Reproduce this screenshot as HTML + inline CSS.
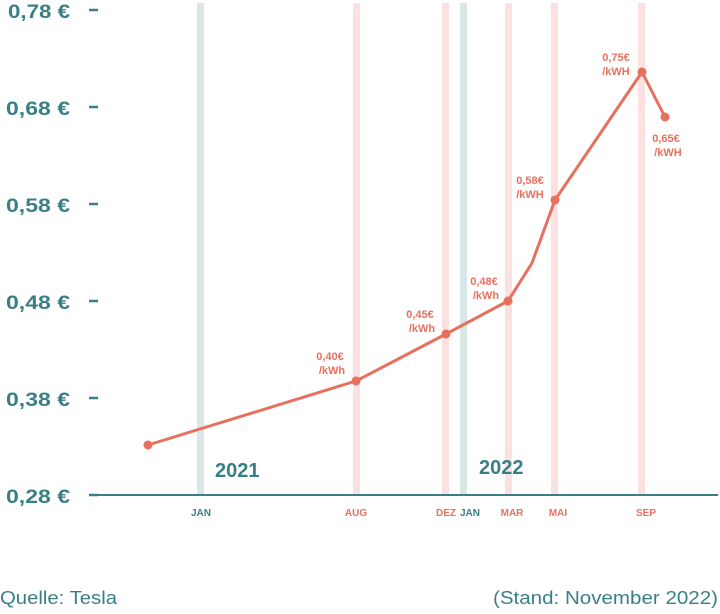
<!DOCTYPE html>
<html><head><meta charset="utf-8"><style>
body{margin:0;background:#fff;}
svg{display:block;font-family:"Liberation Sans",sans-serif;}
</style></head><body>
<svg width="720" height="614" viewBox="0 0 720 614" xmlns="http://www.w3.org/2000/svg">
<g>
<rect x="197" y="3" width="7" height="492" fill="#d9e7e7"/>
<rect x="353" y="3" width="7" height="492" fill="#fbe1df"/>
<rect x="442" y="3" width="7" height="492" fill="#fbe1df"/>
<rect x="460" y="3" width="7" height="492" fill="#d9e7e7"/>
<rect x="505" y="3" width="7" height="492" fill="#fbe1df"/>
<rect x="551" y="3" width="7" height="492" fill="#fbe1df"/>
<rect x="638" y="3" width="7" height="492" fill="#fbe1df"/>
</g>
<line x1="90" y1="495" x2="718" y2="495" stroke="#3a7f84" stroke-width="2"/>
<g fill="#3a7f84" font-weight="bold" font-size="19">
<text x="8" y="18" textLength="62" lengthAdjust="spacingAndGlyphs">0,78 €</text>
<text x="6" y="115" textLength="64" lengthAdjust="spacingAndGlyphs">0,68 €</text>
<text x="6" y="212" textLength="64" lengthAdjust="spacingAndGlyphs">0,58 €</text>
<text x="6" y="309" textLength="64" lengthAdjust="spacingAndGlyphs">0,48 €</text>
<text x="6" y="406" textLength="64" lengthAdjust="spacingAndGlyphs">0,38 €</text>
<text x="6" y="503" textLength="64" lengthAdjust="spacingAndGlyphs">0,28 €</text>
</g>
<g stroke="#3a7f84" stroke-width="2.5">
<line x1="89" y1="10" x2="98" y2="10"/><line x1="89" y1="107" x2="98" y2="107"/>
<line x1="89" y1="204" x2="98" y2="204"/><line x1="89" y1="301" x2="98" y2="301"/>
<line x1="89" y1="398" x2="98" y2="398"/><line x1="89" y1="495" x2="98" y2="495"/>
</g>
<g font-size="10" font-weight="bold" text-anchor="middle">
<text x="201" y="516" fill="#3a7f84">JAN</text>
<text x="356" y="516" fill="#e8705f">AUG</text>
<text x="446" y="516" fill="#e8705f">DEZ</text>
<text x="470" y="516" fill="#3a7f84">JAN</text>
<text x="512" y="516" fill="#e8705f">MAR</text>
<text x="558" y="516" fill="#e8705f">MAI</text>
<text x="646" y="516" fill="#e8705f">SEP</text>
</g>
<g fill="#3a7f84" font-weight="bold" font-size="20">
<text x="215" y="477">2021</text>
<text x="479" y="474">2022</text>
</g>
<polyline points="148,445 356,381 446,334 508,301 532,263 555,200 642,72 665,117" fill="none" stroke="#e8705f" stroke-width="3" stroke-linejoin="round"/>
<g fill="#e8705f">
<circle cx="148" cy="445" r="4.5"/><circle cx="356" cy="381" r="4.5"/><circle cx="446" cy="334" r="4.5"/>
<circle cx="508" cy="301" r="4.5"/><circle cx="555" cy="200" r="4.5"/><circle cx="642" cy="72" r="4.5"/><circle cx="665" cy="117" r="4.5"/>
</g>
<g fill="#e8705f" font-weight="bold" font-size="11" text-anchor="middle">
<text x="330" y="360">0,40€</text><text x="332" y="374">/kWh</text>
<text x="420" y="318">0,45€</text><text x="422" y="332">/kWh</text>
<text x="484" y="285">0,48€</text><text x="486" y="299">/kWh</text>
<text x="530" y="184">0,58€</text><text x="530" y="198">/kWH</text>
<text x="616" y="61">0,75€</text><text x="616" y="75">/kWH</text>
<text x="666" y="142">0,65€</text><text x="668" y="156">/kWH</text>
</g>
<g fill="#3a7f84" font-size="18">
<text x="0" y="604" textLength="117" lengthAdjust="spacingAndGlyphs">Quelle: Tesla</text>
<text x="493" y="604" textLength="225" lengthAdjust="spacingAndGlyphs">(Stand: November 2022)</text>
</g>
</svg>
</body></html>
